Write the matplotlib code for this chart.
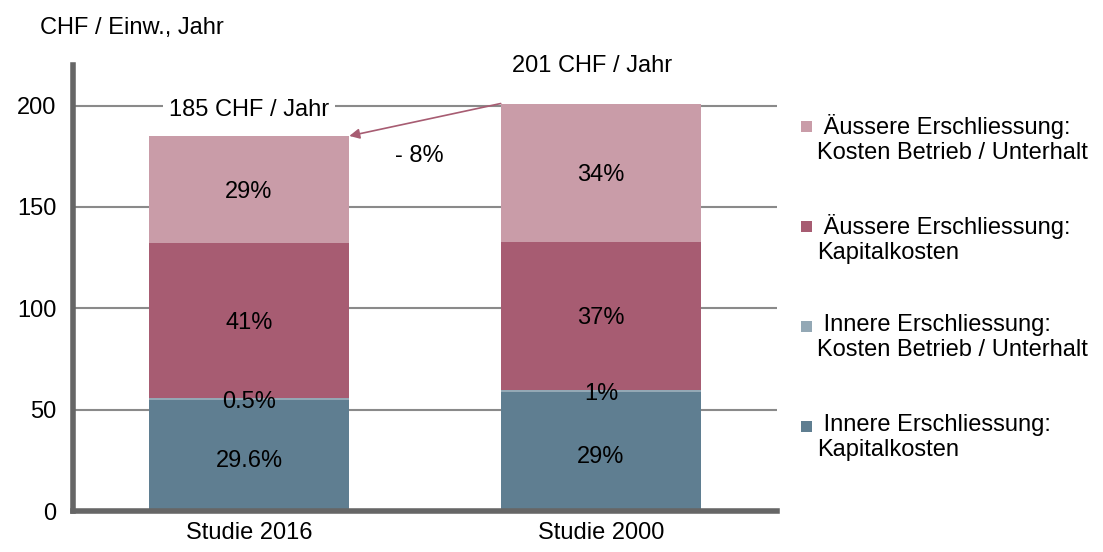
import matplotlib
matplotlib.use("Agg")
import matplotlib.pyplot as plt
from matplotlib.patches import Rectangle
import numpy as np

plt.rcParams['font.family'] = ['Liberation Sans', 'DejaVu Sans']

categories = ["Studie 2016", "Studie 2000"]
series_names = [
    "Innere Erschliessung:\nKapitalkosten",
    "Innere Erschliessung:\nKosten Betrieb / Unterhalt",
    "Äussere Erschliessung:\nKapitalkosten",
    "Äussere Erschliessung:\nKosten Betrieb / Unterhalt",
]
innere_kapital = [54.9, 58.6]
innere_betrieb = [0.9, 1.2]
aeussere_kapital = [76.4, 72.9]
aeussere_betrieb = [52.8, 68.3]
pct_labels = [
    ["29.6%", "29%"],
    ["0.5%", "1%"],
    ["41%", "37%"],
    ["29%", "34%"],
]
totals_text = ["185 CHF / Jahr", "201 CHF / Jahr"]
change_text = "- 8%"
y_ticks = [0, 50, 100, 150, 200]
y_label = "CHF / Einw., Jahr"

colors = ["#5F7E91", "#93A8B5", "#A75C72", "#C99CA8"]
FS = 17

fig = plt.figure(figsize=(11.03, 5.52), dpi=100)
ax = fig.add_axes([73/1103, (552-511)/552, (777-73)/1103, (511-65)/552])

series = [innere_kapital, innere_betrieb, aeussere_kapital, aeussere_betrieb]
x = np.arange(len(categories))
width = 0.57
bottom = np.zeros(len(categories))
bars_all = []
for vals, col in zip(series, colors):
    ax.bar(x, vals, width, bottom=bottom, color=col, zorder=3, linewidth=0)
    bars_all.append((np.array(vals), bottom.copy()))
    bottom = bottom + np.array(vals)
totals = bottom

ax.set_xlim(-0.5, 1.5)
ax.set_ylim(0, 220)
ax.set_yticks(y_ticks)
ax.set_xticks(x)
ax.set_xticklabels(categories, fontsize=FS)
ax.tick_params(axis='y', length=0, labelsize=FS, pad=12)
ax.tick_params(axis='x', length=0, pad=8)
ax.yaxis.grid(True, color="#8a8a8a", linewidth=1.5, zorder=0)
ax.set_axisbelow(True)
for s in ["top", "right"]:
    ax.spines[s].set_visible(False)
for s in ["left", "bottom"]:
    ax.spines[s].set_color("#666666")
    ax.spines[s].set_linewidth(4)
    ax.spines[s].set_zorder(4)

# percentage labels
for si, (vals, bot) in enumerate(bars_all):
    for ci in range(len(categories)):
        if si == 1:
            yy = bot[ci] + 0.3
        elif si == 0:
            yy = bot[ci] + vals[ci] / 2 - 1.5
        else:
            yy = bot[ci] + vals[ci] / 2
        ax.text(x[ci], yy, pct_labels[si][ci], ha="center", va="center_baseline",
                fontsize=FS, zorder=5)

# totals
ax.text(x[0], totals[0] + 13, totals_text[0], ha="center", va="center", fontsize=FS,
        zorder=5, bbox=dict(facecolor="white", edgecolor="none", pad=4))
ax.text(x[1] - 0.025, totals[1] + 18.5, totals_text[1], ha="center", va="center",
        fontsize=FS, zorder=5, clip_on=False)
ax.text(0.485, 175, change_text, ha="center", va="center", fontsize=FS, zorder=5)

ax.annotate("", xy=(x[0] + width / 2, totals[0]), xytext=(x[1] - width / 2, totals[1]),
            arrowprops=dict(arrowstyle="-|>", color="#A75C72", lw=1.2,
                            mutation_scale=15, shrinkA=0, shrinkB=0), zorder=6)

fig.text(40/1103, 1 - 28/552, y_label, ha="left", va="center", fontsize=FS)

# legend
leg_y = [126, 226, 326, 426]
order = [3, 2, 1, 0]
for yy, si in zip(leg_y, order):
    fig.patches.append(Rectangle((801/1103, 1 - (yy + 6)/552), 11/1103, 11/552,
                                 transform=fig.transFigure, facecolor=colors[si],
                                 edgecolor="none"))
    fig.text(817/1103, 1 - (yy - 12)/552, " " + series_names[si], ha="left", va="top",
             fontsize=FS, linespacing=1.2)

fig.savefig("out.png", dpi=100)
